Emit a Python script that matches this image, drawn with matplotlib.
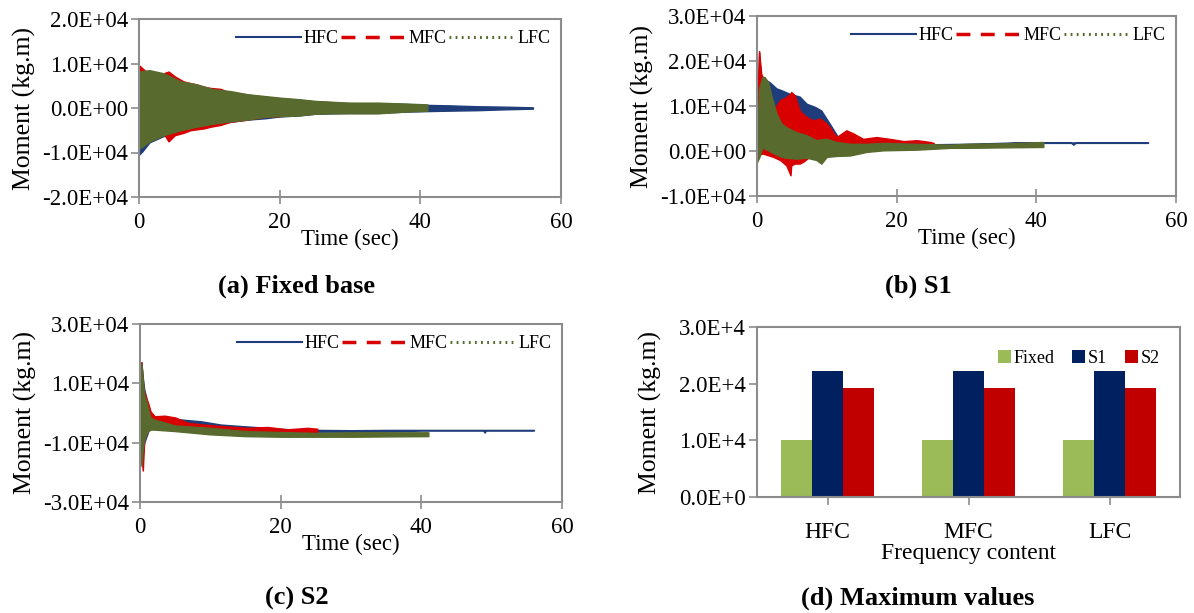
import numpy as np
import matplotlib
matplotlib.use("Agg")
import matplotlib.pyplot as plt
from matplotlib.lines import Line2D

plt.rcParams['font.family'] = ['Liberation Serif', 'DejaVu Serif']

# colours of the three records
C_HFC = '#1F3D7A'
C_MFC = '#D80000'
C_LFC = '#586A2E'

# (a) Fixed base - envelopes of moment (kg.m)
a_hfc_t = [0, 0.5, 1.5, 3.5, 6, 8, 10.5, 13, 15.5, 18, 20, 22.5, 25, 27.5, 30, 34, 38, 41, 44, 48, 52, 56]
a_hfc_hi = [8000, 8200, 8300, 7600, 5800, 5100, 4100, 3600, 3000, 2500, 2200, 1900, 1500, 1300, 1100, 1000, 900, 700, 600, 400, 300, 150]
a_hfc_lo = [-10500, -9700, -7700, -6300, -5100, -4300, -3600, -3100, -2600, -2300, -1900, -1700, -1300, -1200, -1100, -1100, -800, -700, -600, -500, -300, -150]

a_mfc_t = [0, 1, 2.5, 3.5, 4.2, 5.1, 6.3, 7.3, 8.2, 9.2, 10.2, 11.6, 13, 15.4, 17.8, 20.2, 22.6, 25]
a_mfc_hi = [9600, 8200, 7400, 7800, 8200, 7100, 6000, 5600, 5300, 4800, 4500, 4300, 3400, 2700, 2300, 1600, 1400, 900]
a_mfc_lo = [-9000, -7500, -6500, -5700, -7500, -6100, -5600, -5000, -4800, -4600, -4200, -3800, -3100, -2600, -2000, -1800, -1500, -1100]

a_lfc_t = [0, 1.5, 3.5, 5.9, 8.2, 10.6, 13, 15.4, 17.8, 20.2, 22.6, 25, 27.4, 29.8, 34, 38, 41]
a_lfc_hi = [8200, 8500, 7800, 6000, 5300, 4200, 3800, 3100, 2700, 2300, 2000, 1600, 1400, 1200, 1200, 1000, 800]
a_lfc_lo = [-9200, -7500, -6100, -5000, -4200, -3500, -3000, -2600, -2000, -1800, -1700, -1300, -1200, -1200, -1200, -800, -600]

# (b) S1
b_hfc_t = [0, 0.3, 0.6, 1.0, 1.8, 2.8, 3.5, 4.7, 6.1, 7.1, 8.3, 9.2, 10.4, 11.6, 12.3, 15, 20, 25, 30, 37, 41, 45, 45.3, 45.6, 50, 56]
b_hfc_hi = [5000, 22000, 15000, 16000, 15300, 13900, 13500, 12700, 12100, 10500, 9800, 9000, 6100, 3100, 1800, 1600, 1500, 1500, 1600, 1900, 1900, 1900, 1900, 1900, 1900, 1900]
b_hfc_lo = [0, -1000, 0, 0, 500, 500, 800, 1000, 1000, 1000, 1000, 1000, 1000, 1000, 1000, 1100, 1200, 1300, 1400, 1800, 1800, 1800, 1400, 1800, 1800, 1800]

b_mfc_t = [0, 0.3, 0.6, 0.9, 1.3, 2.3, 3.3, 4.2, 4.8, 4.9, 5.4, 6.1, 6.6, 7.1, 8.0, 9.0, 10.0, 11.4, 12.8, 13.8, 15.2, 17.1, 19.0, 21.0, 22.9, 24.8, 25.3]
b_mfc_hi = [8000, 22200, 17200, 16000, 15300, 9000, 11300, 12000, 12800, 13100, 12400, 9000, 8200, 7600, 6800, 7200, 6100, 3100, 4600, 3900, 2700, 3100, 2700, 2200, 2400, 2000, 1800]
b_mfc_lo = [-2400, -1000, -600, -600, -800, -1300, -2000, -3200, -5400, -3200, -2800, -2800, -2400, -1800, -600, -200, 150, 900, 1000, 1100, 1200, 1200, 1300, 1300, 1300, 1300, 1300]

b_lfc_t = [0, 0.3, 0.8, 1.1, 1.6, 2.1, 2.8, 3.5, 4.2, 5.6, 7.1, 8.5, 9.2, 10, 11.4, 13.3, 15.7, 18.1, 22.9, 27.7, 30, 35, 41]
b_lfc_hi = [2000, 14000, 16500, 16400, 15300, 12000, 8300, 6100, 5300, 4200, 3500, 2400, 2600, 2700, 2000, 1600, 1600, 1800, 1600, 1400, 1600, 1700, 2000]
b_lfc_lo = [-2400, -1500, 900, 500, 150, -300, -800, -1300, -1500, -1700, -1500, -2000, -2800, -1300, -1100, -1000, -200, 150, 300, 700, 700, 800, 900]

# (c) S2
c_hfc_t = [0, 0.2, 0.4, 0.6, 0.9, 1.2, 1.5, 2.1, 4.0, 5.9, 8.7, 11.5, 14.4, 18.1, 21.9, 25.6, 30, 35, 40, 48.8, 49, 49.2, 56]
c_hfc_hi = [0, 17000, 12000, 8000, 5000, 2000, 0, -1300, -1700, -2200, -2800, -3900, -4400, -5000, -5600, -5700, -5800, -5700, -5700, -5700, -5700, -5700, -5700]
c_hfc_lo = [0, -17000, -14000, -10000, -8000, -6000, -5000, -4400, -4500, -4500, -4700, -5200, -5600, -5900, -6100, -6300, -6300, -6200, -5900, -5900, -6600, -5900, -5900]

c_mfc_t = [0, 0.2, 0.4, 0.6, 0.9, 1.2, 1.5, 2.1, 3.5, 5.0, 6.8, 8.7, 10.6, 13.4, 15.3, 18.1, 20.9, 23.8, 25.2]
c_mfc_hi = [0, 17200, 10000, 7000, 5000, 3000, 500, -1100, -900, -1500, -3300, -3800, -4200, -4700, -5000, -4700, -5500, -5000, -5300]
c_mfc_lo = [0, -15000, -19400, -9000, -7000, -5500, -5000, -5000, -5000, -5000, -5300, -5600, -5600, -5900, -6100, -6300, -6400, -6400, -6400]

c_lfc_t = [0, 0.2, 0.4, 0.6, 0.9, 1.2, 1.5, 2.0, 5.0, 10, 15, 20, 25, 30, 35, 41]
c_lfc_hi = [0, 16700, 11000, 6000, 4000, 1000, -1500, -2200, -4200, -5000, -6100, -6400, -6700, -6500, -6500, -6500]
c_lfc_lo = [0, -17800, -12000, -9000, -7000, -6000, -5600, -5600, -6100, -7200, -7800, -8000, -8000, -8000, -7900, -7800]

# (d) maximum values
categories = ['HFC', 'MFC', 'LFC']
max_fixed = [10000, 10000, 10000]
max_s1 = [22200, 22200, 22200]
max_s2 = [19300, 19300, 19300]

a_yticks = [-20000, -10000, 0, 10000, 20000]
a_ylabels = ['-2.0E+04', '-1.0E+04', '0.0E+00', '1.0E+04', '2.0E+04']
b_yticks = [-10000, 0, 10000, 20000, 30000]
b_ylabels = ['-1.0E+04', '0.0E+00', '1.0E+04', '2.0E+04', '3.0E+04']
c_yticks = [-30000, -10000, 10000, 30000]
c_ylabels = ['-3.0E+04', '-1.0E+04', '1.0E+04', '3.0E+04']
d_yticks = [0, 10000, 20000, 30000]
d_ylabels = ['0.0E+0', '1.0E+4', '2.0E+4', '3.0E+4']
time_ticks = [0, 20, 40, 60]

W, H = 1194, 613
fig = plt.figure(figsize=(W / 100, H / 100), dpi=100)


def box(l, t, r, b):
    return [l / W, 1 - b / H, (r - l) / W, (b - t) / H]


def style(ax):
    for s in ax.spines.values():
        s.set_color('#8c8c8c')
        s.set_linewidth(1.5)
    ax.tick_params(axis='y', direction='out', length=6, width=1.2, color='#8c8c8c', labelsize=16.5, pad=2)
    ax.tick_params(axis='x', color='#8c8c8c', width=1.2, labelsize=16.5)


def time_panel(pos, series, yticks, ylabels):
    ax = fig.add_axes(pos)
    for t, hi, lo, c in series:
        ax.fill_between(t, lo, hi, color=c, lw=1.0, edgecolor=c)
    ax.set_xlim(0, 60)
    ax.set_ylim(yticks[0], yticks[-1])
    ax.set_xticks(time_ticks)
    ax.set_yticks(yticks)
    ax.set_yticklabels(ylabels)
    style(ax)
    ax.tick_params(axis='x', direction='inout', length=10, pad=6)
    ax.set_xlabel('Time (sec)', fontsize=16.5, labelpad=-3)
    ax.set_ylabel('Moment (kg.m)', fontsize=18.5, labelpad=4)
    handles = [Line2D([], [], color=C_HFC, lw=1.5),
               Line2D([], [], color=C_MFC, lw=2.5, ls=(0, (4, 3))),
               Line2D([], [], color=C_LFC, lw=2.2, ls=(0, (0.6, 1.4)))]
    ax.legend(handles, ['HFC', 'MFC', 'LFC'], loc='upper right', ncol=3, frameon=False,
              fontsize=13, handlelength=3.6, handletextpad=0.15, columnspacing=0.15,
              borderaxespad=0.2, bbox_to_anchor=(1.0, 1.0))
    return ax


time_panel(box(139, 19, 561, 197),
           [(a_hfc_t, a_hfc_hi, a_hfc_lo, C_HFC),
            (a_mfc_t, a_mfc_hi, a_mfc_lo, C_MFC),
            (a_lfc_t, a_lfc_hi, a_lfc_lo, C_LFC)],
           a_yticks, a_ylabels)

time_panel(box(757, 16, 1176, 196),
           [(b_hfc_t, b_hfc_hi, b_hfc_lo, C_HFC),
            (b_mfc_t, b_mfc_hi, b_mfc_lo, C_MFC),
            (b_lfc_t, b_lfc_hi, b_lfc_lo, C_LFC)],
           b_yticks, b_ylabels)

time_panel(box(140, 324, 562, 502),
           [(c_hfc_t, c_hfc_hi, c_hfc_lo, C_HFC),
            (c_mfc_t, c_mfc_hi, c_mfc_lo, C_MFC),
            (c_lfc_t, c_lfc_hi, c_lfc_lo, C_LFC)],
           c_yticks, c_ylabels)

# (d) bar chart
ax = fig.add_axes(box(757, 327, 1180, 497))
x = np.arange(len(categories))
bw = 0.222
ax.bar(x - bw, max_fixed, bw, color='#9BBB59', label='Fixed')
ax.bar(x, max_s1, bw, color='#002060', label='S1')
ax.bar(x + bw, max_s2, bw, color='#C00000', label='S2')
ax.set_xlim(-0.5, 2.5)
ax.set_ylim(0, 30000)
ax.set_xticks(x)
ax.set_xticklabels(categories)
ax.set_yticks(d_yticks)
ax.set_yticklabels(d_ylabels)
style(ax)
ax.tick_params(axis='x', direction='out', length=6, pad=12, labelsize=17)
ax.set_xlabel('Frequency content', fontsize=17, labelpad=0)
ax.set_ylabel('Moment (kg.m)', fontsize=18.5, labelpad=12)
ax.legend(loc='upper right', ncol=3, frameon=False, fontsize=13, handlelength=0.7,
          handleheight=0.7, handletextpad=0.15, columnspacing=1.0,
          bbox_to_anchor=(0.99, 0.96))

# captions
cap = dict(fontsize=19, fontweight='bold', ha='center', va='center')
fig.text(297 / W, 1 - 286 / H, '(a) Fixed base', **cap)
fig.text(918 / W, 1 - 286 / H, '(b) S1', **cap)
fig.text(297 / W, 1 - 598 / H, '(c) S2', **cap)
fig.text(918 / W, 1 - 598 / H, '(d) Maximum values', **cap)

fig.savefig('out.png', dpi=100)
